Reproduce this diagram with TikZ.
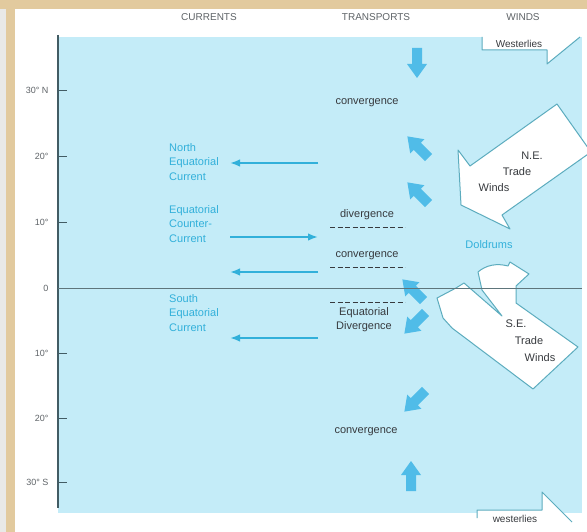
\documentclass[tikz,border=0pt]{standalone}
\usepackage{fontspec}
\setmainfont{Liberation Sans}
\usetikzlibrary{arrows.meta,positioning}
\definecolor{sand}{RGB}{226,202,158}
\definecolor{mist}{RGB}{233,233,231}
\definecolor{sea}{RGB}{196,236,248}
\definecolor{cyanline}{RGB}{50,176,218}
\definecolor{flux}{RGB}{80,188,232}
\definecolor{rim}{RGB}{92,172,190}
\definecolor{axisgray}{RGB}{66,92,100}
\definecolor{ink}{RGB}{55,58,62}
\definecolor{heading}{RGB}{95,100,104}
\tikzset{
  >={Latex[length=10pt,width=7.5pt]},
  colhead/.style={font=\fontsize{10}{12}\selectfont,text=heading},
  lat/.style={font=\fontsize{9}{11}\selectfont,text=heading,anchor=east},
  tag/.style={font=\fontsize{11}{14}\selectfont,text=ink,align=center,inner sep=0pt},
  curlabel/.style={font=\fontsize{11}{14.5}\selectfont,text=cyanline,align=left,anchor=west,inner sep=0pt},
  drift/.style={->,draw=cyanline,line width=1.6pt},
  frontline/.style={draw=ink,dash pattern=on 5pt off 2.5pt,line width=0.9pt},
  wind/.style={fill=white,draw=rim,line width=1pt,line join=round},
  % block arrow of the transport column
  pics/transport/.style={code={
    \fill[flux] (-15,-5) -- (1,-5) -- (1,-10) -- (15,0) -- (1,10) -- (1,5) -- (-15,5) -- cycle;
  }},
}
\begin{document}
\begin{tikzpicture}[x=1pt,y=-1pt]
  \useasboundingbox (0,0) rectangle (587,532);
  \fill[sand] (0,0) rectangle (587,532);
  \fill[mist] (0,9) rectangle (6,532);
  \fill[white] (15,9) rectangle (587,532);
  \fill[sea] (58,37) rectangle (582,513);
  % column heads
  \node[colhead] (currents) at (209,17) {CURRENTS};
  \node[colhead] (transports) at (376,17) {TRANSPORTS};
  \node[colhead] (winds) at (523,17) {WINDS};
  % latitude scale
  \draw[axisgray,line width=1.3pt] (58,35) -- (58,508);
  \foreach \y/\t [count=\i] in {90/30° N,156/20°,222/10°,288/0,353/10°,418/20°,482/30° S}{
    \draw[axisgray,line width=0.8pt] (58,\y) -- (67,\y);
    \node[lat] (lat\i) at (52,\y) {\t};
  }
  % currents
  \node[curlabel] (nec) at (169,162) {North\\Equatorial\\Current};
  \node[curlabel] (ecc) at (169,224) {Equatorial\\Counter-\\Current};
  \node[curlabel] (sec) at (169,313) {South\\Equatorial\\Current};
  \coordinate (nec-a) at (318,163); \coordinate (nec-b) at (230,163);
  \coordinate (ecc-a) at (230,237); \coordinate (ecc-b) at (318,237);
  \coordinate (eq-a) at (318,272);  \coordinate (eq-b) at (230,272);
  \coordinate (sec-a) at (318,338); \coordinate (sec-b) at (230,338);
  \draw[drift] (nec-a) -- (nec-b);
  \draw[drift] (ecc-a) -- (ecc-b);
  \draw[drift] (eq-a) -- (eq-b);
  \draw[drift] (sec-a) -- (sec-b);
  % transports
  \node[tag] (conv-n) at (367,103) {convergence};
  \node[tag] (div-n) at (367,215) {divergence};
  \draw[frontline] (330,227) -- (405,227);
  \node[tag] (conv-eq) at (367,256) {convergence};
  \draw[frontline] (330,267) -- (405,267);
  \draw[frontline] (330,302) -- (405,302);
  \node[tag] (div-eq) at (364,320) {Equatorial\\Divergence};
  \node[tag] (conv-s) at (366,432) {convergence};
  \foreach \x/\y/\a in {417/63/-90,418/147/135,418/193/135,413/290/135,415/323/225,415/401/225,411/476/90}
    \pic[rotate=\a] at (\x,\y) {transport};
  % winds
  \begin{scope}
    \clip (15,9) rectangle (587,532);
    \draw[wind] (461,205) -- (458,150) -- (470,166) -- (557,104) -- (591,152) -- (502,215) -- (510,229) -- cycle;
    \draw[wind] (533,389) -- (578,347) -- (516,303) -- (516,286) -- (529,274) -- (510,262) -- (508,266)
      .. controls (497,263) and (486,265) .. (478,272) -- (482,290) -- (502,316) -- (464,283)
      -- (456,288) -- (437,298) -- (443,318) -- (452,328) -- cycle;
    \fill[white] (482,37) -- (482,50) -- (547,50) -- (547,64) -- (580,37) -- cycle;
    \draw[wind,fill=none] (482,37) -- (482,50) -- (547,50) -- (547,64) -- (580,37);
    \fill[white] (477,518) -- (477,510) -- (542,510) -- (542,492) -- (572,522) -- (572,532) -- (477,532) -- cycle;
    \draw[wind,fill=none] (477,518) -- (477,510) -- (542,510) -- (542,492) -- (572,522);
  \end{scope}
  \draw[axisgray!85,line width=1pt] (58,288) -- (582,288);
  \node[tag] (ne-a) at (532,156) {N.E.};
  \node[tag] (ne-b) at (517,172) {Trade};
  \node[tag] (ne-c) at (494,188) {Winds};
  \node[tag,text=cyanline] (doldrums) at (489,245) {Doldrums};
  \node[tag] (se-a) at (516,324) {S.E.};
  \node[tag] (se-b) at (529,341) {Trade};
  \node[tag] (se-c) at (540,358) {Winds};
  \node[tag,font=\fontsize{10}{12}\selectfont] (west-n) at (519,44) {Westerlies};
  \node[tag,font=\fontsize{10}{12}\selectfont] (west-s) at (515,519) {westerlies};
\end{tikzpicture}
\end{document}
